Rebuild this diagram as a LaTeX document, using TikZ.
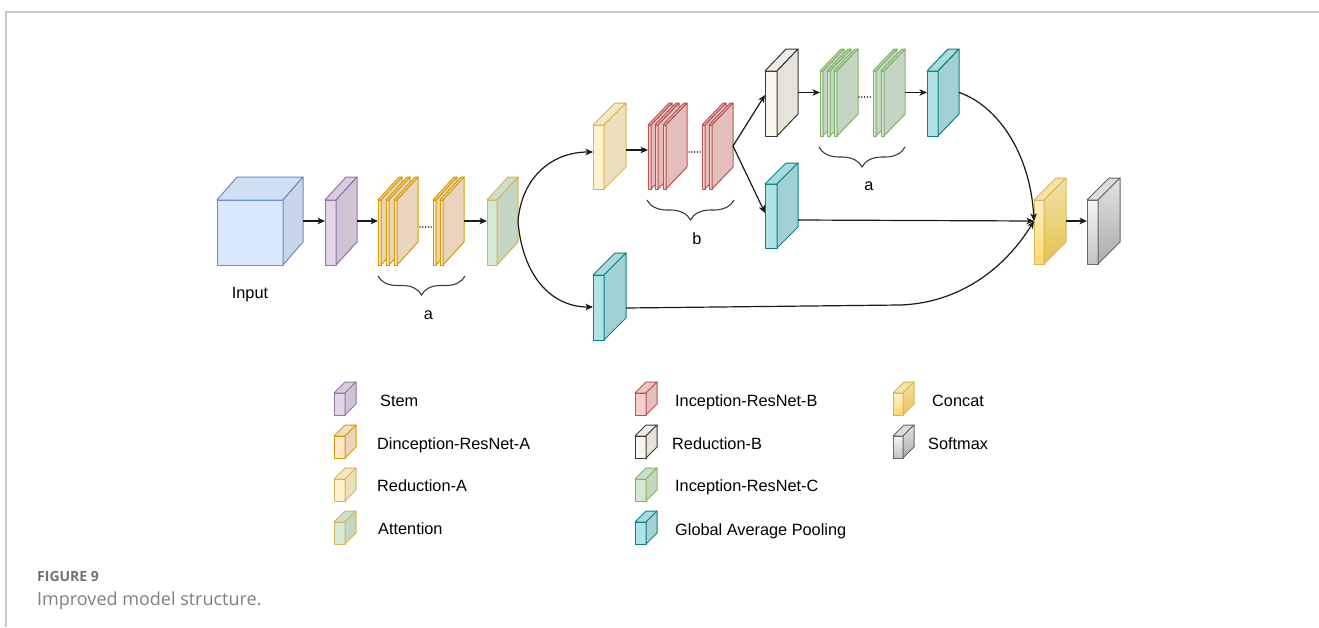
\documentclass[tikz,border=0pt]{standalone}
\usepackage{fontspec}
\setmainfont{Liberation Sans}
\newfontfamily\capfont{Open Sans}
\usetikzlibrary{arrows.meta,decorations.pathreplacing,calc}

% fills and strokes of the block types
\definecolor{bluF}{HTML}{DAE8FC}\definecolor{bluD}{HTML}{6C8EBF}
\definecolor{purF}{HTML}{E1D5E7}\definecolor{purD}{HTML}{9673A6}
\definecolor{oraF}{HTML}{FFE6CC}\definecolor{oraD}{HTML}{D79B00}
\definecolor{yelF}{HTML}{FFF2CC}\definecolor{yelD}{HTML}{D6B656}
\definecolor{grnF}{HTML}{D5E8D4}\definecolor{grnD}{HTML}{82B366}
\definecolor{redF}{HTML}{F8CECC}\definecolor{redD}{HTML}{B85450}
\definecolor{whtF}{HTML}{F9F7ED}\definecolor{whtD}{HTML}{36393D}
\definecolor{tealF}{HTML}{B0E3E6}\definecolor{tealD}{HTML}{0E8088}
\definecolor{gryD}{HTML}{666666}
\definecolor{catBot}{HTML}{FFD966}
\definecolor{catTop}{HTML}{F7E3A0}
\definecolor{catSideA}{HTML}{F2E2AA}
\definecolor{catSideB}{HTML}{E6C24E}
\definecolor{softA}{HTML}{F5F5F5}
\definecolor{softB}{HTML}{C4C4C4}
\definecolor{softTop}{HTML}{DCDCDC}
\definecolor{softSideA}{HTML}{E2E2E2}
\definecolor{softSideB}{HTML}{ACACAC}
\definecolor{frame}{HTML}{C8C8C8}
\definecolor{capgray}{HTML}{7F7F7F}
\definecolor{ink}{HTML}{1A1A1A}

\tikzset{
  face/.style={line width=1pt, line join=round},
  conn/.style={line width=1.2pt, draw=ink, -{Stealth[length=7.5pt,width=6.5pt,inset=2pt]}},
  bracket/.style={line width=1.1pt, draw=ink!85, decorate,
    decoration={brace, mirror, amplitude=#1}},
  dots/.style={line width=1.6pt, draw=ink!85, line cap=round,
    dash pattern=on 0.01pt off 2.8pt},
  lbl/.style={font=\fontsize{16.3}{19}\selectfont, inner sep=0pt, anchor=base west},
  concat front/.style={face, draw=yelD, top color=yelF, bottom color=catBot},
  concat top/.style={face, draw=yelD, fill=catTop},
  concat side/.style={face, draw=yelD, top color=catSideA, bottom color=catSideB},
  soft front/.style={face, draw=gryD, top color=softA, bottom color=softB},
  soft top/.style={face, draw=gryD, fill=softTop},
  soft side/.style={face, draw=gryD, top color=softSideA, bottom color=softSideB},
}

% palette: name, fill, stroke
\newcommand{\cubepalette}[3]{%
  \tikzset{#1 front/.style={face, fill=#2, draw=#3},
           #1 top/.style={face, fill=#2!96!black, draw=#3},
           #1 side/.style={face, fill=#2!92!black, draw=#3}}}
\cubepalette{blu}{bluF}{bluD}
\cubepalette{pur}{purF}{purD}
\cubepalette{ora}{oraF}{oraD}
\cubepalette{yel}{yelF}{yelD}
\cubepalette{att}{grnF}{yelD}
\cubepalette{grn}{grnF}{grnD}
\cubepalette{red}{redF}{redD}
\cubepalette{wht}{whtF}{whtD}
\cubepalette{teal}{tealF}{tealD}

% block: name, x, y (front top-left), front width, height, depth dx, depth dy, palette
\newcommand{\cubeblk}[8]{%
  \node[inner sep=0pt, outer sep=0pt, minimum width={#4+#6}, minimum height={#5+#7},
        anchor=north west] (#1) at (#2,#3-#7) {};
  \path[#8 front] (#2,#3) rectangle ++(#4,#5);
  \path[#8 top] (#2,#3) -- ++(#6,-#7) -- ++(#4,0) -- ++(-#6,#7) -- cycle;
  \path[#8 side] (#2+#4,#3) -- ++(#6,-#7) -- ++(0,#5) -- ++(-#6,#7) -- cycle;
}

\begin{document}
\begin{tikzpicture}[x=1pt, y=-1pt]
\useasboundingbox (0,0) rectangle (1319,627);
\draw[frame, line width=1.2pt] (1319,12) -- (6,12) -- (6,627);

% ---- main row
\cubeblk{input}{217}{200}{66}{65}{20}{23}{blu}
\node[lbl, anchor=base] (inputlbl) at (250,298) {Input};
\cubeblk{stem}{325}{200}{11}{65}{21}{23}{pur}
\cubeblk{da1}{378}{200}{3}{65}{21}{23}{ora}
\cubeblk{da2}{386}{200}{3}{65}{21}{23}{ora}
\cubeblk{da3}{394}{200}{3}{65}{21}{23}{ora}
\cubeblk{da4}{433}{200}{3}{65}{21}{23}{ora}
\cubeblk{da5}{440}{200}{3}{65}{21}{23}{ora}
\draw[dots] (420,227) -- (432,227);
\cubeblk{att}{487}{200}{10}{65}{21}{23}{att}
\draw[bracket=19pt] (378,276) -- (465,276);
\node[lbl, anchor=base] (alow) at (428.5,319) {a};

% ---- upper branch
\cubeblk{redA}{593}{125}{11}{64}{22}{22}{yel}
\cubeblk{rb1}{648}{125}{3}{64}{21}{22}{red}
\cubeblk{rb2}{655}{125}{3}{64}{21}{22}{red}
\cubeblk{rb3}{663}{125}{3}{64}{21}{22}{red}
\cubeblk{rb4}{702}{125}{3}{64}{21}{22}{red}
\cubeblk{rb5}{709}{125}{3}{64}{21}{22}{red}
\draw[dots] (689,152) -- (701,152);
\draw[bracket=20pt] (647,200) -- (734,200);
\node[lbl, anchor=base] (blbl) at (697,244) {b};

\cubeblk{redB}{765}{71}{12}{65}{21}{22}{wht}
\cubeblk{rc1}{820}{71}{3}{65}{21}{22}{grn}
\cubeblk{rc2}{827}{71}{3}{65}{21}{22}{grn}
\cubeblk{rc3}{834}{71}{3}{65}{21}{22}{grn}
\cubeblk{rc4}{873}{71}{3}{65}{21}{22}{grn}
\cubeblk{rc5}{881}{71}{3}{65}{21}{22}{grn}
\draw[dots] (859,97) -- (872,97);
\draw[bracket=20pt] (819,147) -- (905,147);
\node[lbl, anchor=base] (aup) at (869,190) {a};
\cubeblk{gap1}{927}{71}{11}{65}{21}{22}{teal}

\cubeblk{gap2}{765}{184}{12}{64}{21}{21}{teal}

% ---- lower branch
\cubeblk{gap3}{593}{275}{11}{65}{22}{22}{teal}

% ---- head
\cubeblk{concat}{1034}{200}{10}{64}{22}{22}{concat}
\cubeblk{soft}{1087}{200}{11}{64}{22}{22}{soft}

% ---- connectors
\draw[conn] (input.east) -- (stem.west);
\draw[conn] (stem.east) -- (da1.west);
\draw[conn] (da5.east) -- (att.west);
\draw[conn] (att.east) .. controls +(4,-45) and +(-40,0) .. ($(redA.west)+(0,6)$);
\draw[conn] (att.east) .. controls +(4,53) and +(-43,0) .. ($(gap3.west)+(0,10.5)$);
\draw[conn] ($(redA.east)+(0,4)$) -- ($(rb1.west)+(0,4)$);
\draw[conn] (rb5.east) -- ($(redB.west)+(0,2.5)$);
\draw[conn] (rb5.east) -- ($(gap2.west)+(0,7.5)$);
\draw[conn] (redB.east) -- (rc1.west);
\draw[conn] (rc5.east) -- (gap1.west);
\draw[conn] (gap1.east) .. controls +(36,12) and +(-4,-71) .. (concat.west);
\draw[conn] ($(gap2.east)+(0,14.5)$) -- (concat.west);
\coordinate (bend3) at (900,305);
\draw[conn] ($(gap3.east)+(0,11.5)$) -- (bend3) .. controls (960,303) and (1005,268) .. (concat.west);
\draw[conn] (concat.east) -- (soft.west);

% ---- legend
\cubeblk{lgStem}{334}{393}{11}{22}{11}{11}{pur}
\node[lbl] (tStem) at (380,406) {Stem};
\cubeblk{lgDA}{334}{436}{11}{22}{11}{11}{ora}
\node[lbl] (tDA) at (377,449) {Dinception-ResNet-A};
\cubeblk{lgRA}{334}{479}{11}{22}{11}{11}{yel}
\node[lbl] (tRA) at (377,491) {Reduction-A};
\cubeblk{lgAtt}{334}{522}{11}{22}{11}{11}{att}
\node[lbl] (tAtt) at (378,534) {Attention};

\cubeblk{lgRB}{635}{393}{11}{22}{11}{11}{red}
\node[lbl] (tRB) at (675,406) {Inception-ResNet-B};
\cubeblk{lgRedB}{635}{436}{11}{22}{11}{11}{wht}
\node[lbl] (tRedB) at (672,449) {Reduction-B};
\cubeblk{lgRC}{635}{479}{11}{22}{11}{11}{grn}
\node[lbl] (tRC) at (675,491) {Inception-ResNet-C};
\cubeblk{lgGAP}{635}{522}{11}{22}{11}{11}{teal}
\node[lbl] (tGAP) at (675,535) {Global Average Pooling};

\cubeblk{lgCat}{893}{393}{10}{22}{11}{11}{concat}
\node[lbl] (tCat) at (932,406) {Concat};
\cubeblk{lgSoft}{893}{436}{10}{22}{11}{11}{soft}
\node[lbl] (tSoft) at (928,449) {Softmax};

% ---- caption
\node[inner sep=0pt, anchor=base west, text=capgray!90!black,
      font=\capfont\bfseries\fontsize{14}{16}\selectfont] (fig) at (37,581) {FIGURE 9};
\node[inner sep=0pt, anchor=base west, text=capgray,
      font=\capfont\fontsize{18}{21}\selectfont] (cap) at (37,605) {Improved model structure.};
\end{tikzpicture}
\end{document}
